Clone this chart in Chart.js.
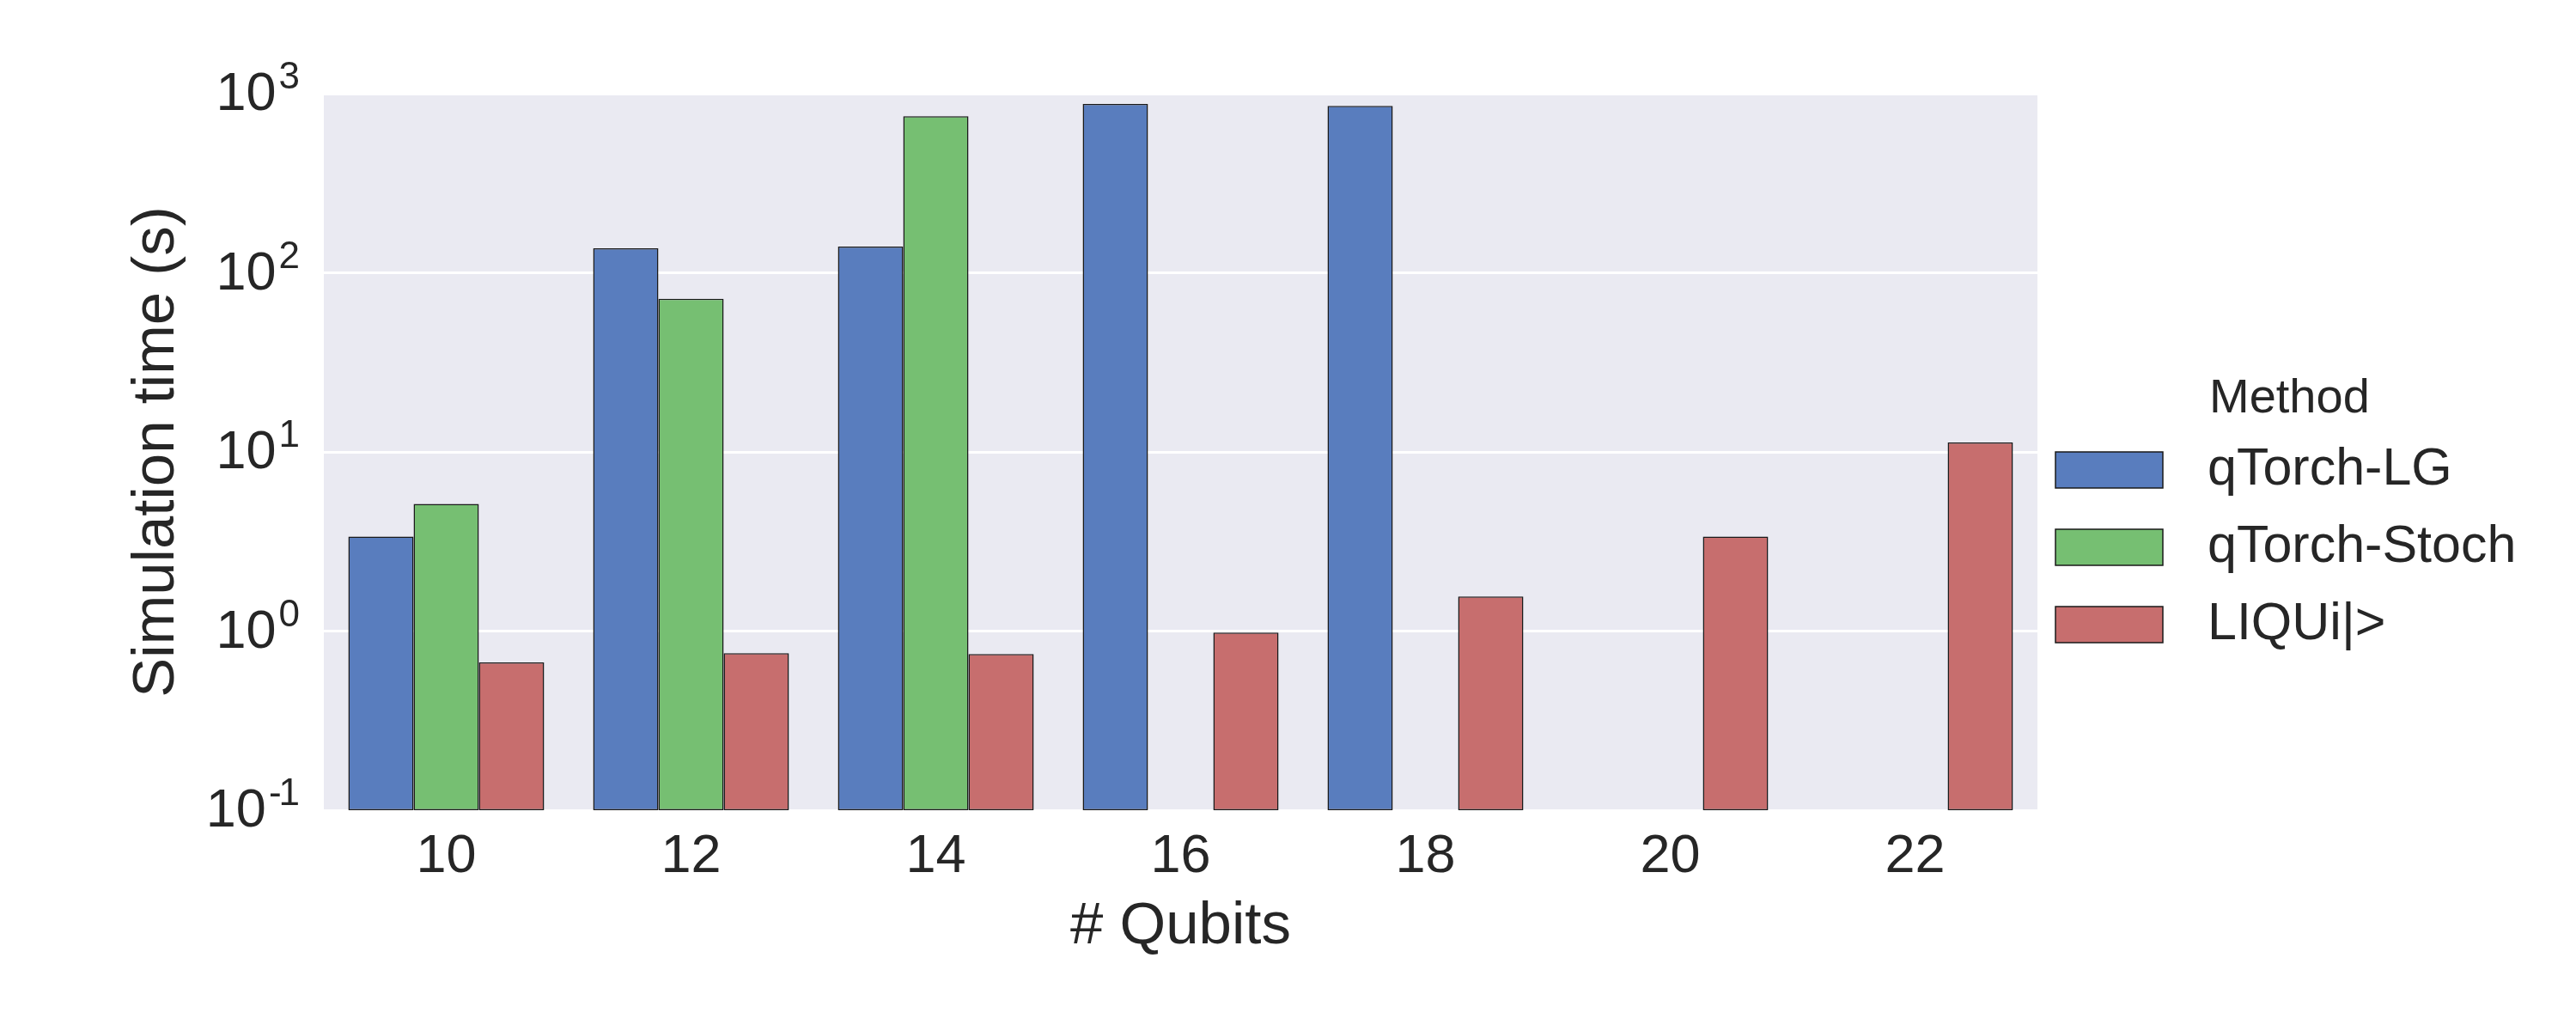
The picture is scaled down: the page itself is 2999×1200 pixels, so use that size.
<!DOCTYPE html>
<html>
<head>
<meta charset="utf-8">
<title>Simulation time vs qubits</title>
<script src="https://cdn.jsdelivr.net/npm/chart.js@4.4.1/dist/chart.umd.min.js"></script>
<style>
    body { margin: 0; background: #fff; }
    canvas { display: block; }
</style>
</head>
<body>
<canvas id="mainChart" width="2999" height="1200"></canvas>
<script>
// --- Data ---
const qubits = ['10', '12', '14', '16', '18', '20', '22'];
const methods = ['qTorch-LG', 'qTorch-Stoch', 'LIQUi|>'];
const lgTimes = [3.37, 137, 140, 875, 855, null, null];
const stochTimes = [5.12, 71.6, 748, null, null, null, null];
const liquiTimes = [0.668, 0.752, 0.744, 0.98, 1.56, 3.37, 11.3];
const yTicks = [0.1, 1, 10, 100, 1000];

// seaborn muted, desaturated like barplot does
const colors = ['#597DBE', '#76BF72', '#C76E6E'];

const FONT = '"Liberation Sans", Arial, sans-serif';
const TEXT = '#262626';

Chart.defaults.font.family = FONT;
Chart.defaults.color = TEXT;

// grey panel behind the bars
const panelBg = {
    id: 'panelBg',
    beforeDraw(chart) {
        const a = chart.chartArea, ctx = chart.ctx;
        ctx.save();
        ctx.fillStyle = '#EAEAF2';
        ctx.fillRect(a.left, a.top, a.right - a.left, a.bottom - a.top);
        ctx.restore();
    }
};

// y tick labels as 10 with a raised exponent
const powerLabels = {
    id: 'powerLabels',
    afterDraw(chart) {
        const ctx = chart.ctx, y = chart.scales.y;
        const right = chart.chartArea.left - 28;
        ctx.save();
        ctx.fillStyle = TEXT;
        ctx.textBaseline = 'alphabetic';
        ctx.textAlign = 'right';
        y.ticks.forEach(t => {
            const py = y.getPixelForValue(t.value);
            const e = Math.round(Math.log10(t.value));
            ctx.font = '44px ' + FONT;
            const digit = String(Math.abs(e));
            let supW = ctx.measureText(digit).width;
            ctx.fillText(digit, right, py - 6);
            if (e < 0) {
                // short minus, tucked close to the digit
                ctx.fillText('-', right - supW + 3, py - 6);
                supW += ctx.measureText('-').width - 3;
            }
            ctx.font = '63px ' + FONT;
            ctx.fillText('10', right - supW - 3, py + 19);
        });
        ctx.restore();
    }
};

// legend outside on the right, matplotlib style
const sideLegend = {
    id: 'sideLegend',
    afterDraw(chart) {
        const ctx = chart.ctx, a = chart.chartArea;
        ctx.save();
        ctx.fillStyle = TEXT;
        ctx.textAlign = 'left';
        ctx.textBaseline = 'alphabetic';
        ctx.font = '56px ' + FONT;
        ctx.fillText('Method', a.right + 200, a.top + 371);

        chart.data.datasets.forEach((ds, i) => {
            const cy = a.top + 438 + i * 90;
            const bx = a.right + 21;
            ctx.fillStyle = ds.backgroundColor;
            ctx.fillRect(bx, cy - 21, 125, 42);
            ctx.strokeStyle = '#1a1a1a';
            ctx.lineWidth = 1.5;
            ctx.strokeRect(bx, cy - 21, 125, 42);

            ctx.fillStyle = TEXT;
            ctx.font = '61px ' + FONT;
            ctx.textBaseline = 'middle';
            ctx.fillText(ds.label, a.right + 198, cy);
            ctx.textBaseline = 'alphabetic';
        });
        ctx.restore();
    }
};

function makeDataset(label, values, color) {
    return {
        label: label,
        data: values,
        backgroundColor: color,
        borderColor: '#1a1a1a',
        borderWidth: 1.5,
        borderSkipped: false,
        categoryPercentage: 0.8,
        barPercentage: 1.0
    };
}

const ctx = document.getElementById('mainChart').getContext('2d');
const myChart = new Chart(ctx, {
    type: 'bar',
    data: {
        labels: qubits,
        datasets: [
            makeDataset(methods[0], lgTimes, colors[0]),
            makeDataset(methods[1], stochTimes, colors[1]),
            makeDataset(methods[2], liquiTimes, colors[2])
        ]
    },
    options: {
        responsive: false,
        animation: false,
        events: [],
        layout: { padding: { left: 0, right: 627, top: 109, bottom: 0 } },
        plugins: {
            legend: { display: false },
            tooltip: { enabled: false }
        },
        scales: {
            x: {
                grid: { display: false, drawTicks: false },
                border: { display: false },
                ticks: { font: { size: 63 }, color: TEXT, padding: 17 },
                title: {
                    display: true,
                    text: '# Qubits',
                    font: { size: 69 },
                    color: TEXT,
                    padding: { top: 0, bottom: 80 }
                },
                afterFit: s => { s.height = 257; }
            },
            y: {
                type: 'logarithmic',
                min: 0.1,
                max: 1000,
                afterBuildTicks: s => { s.ticks = yTicks.map(v => ({ value: v })); },
                ticks: { display: false },
                grid: { color: '#ffffff', lineWidth: 3, drawTicks: false },
                border: { display: false },
                title: {
                    display: true,
                    text: 'Simulation time (s)',
                    font: { size: 69 },
                    color: TEXT,
                    padding: { top: 142, bottom: 0 }
                },
                afterFit: s => { s.width = 377; }
            }
        }
    },
    plugins: [panelBg, powerLabels, sideLegend]
});
</script>
</body>
</html>
